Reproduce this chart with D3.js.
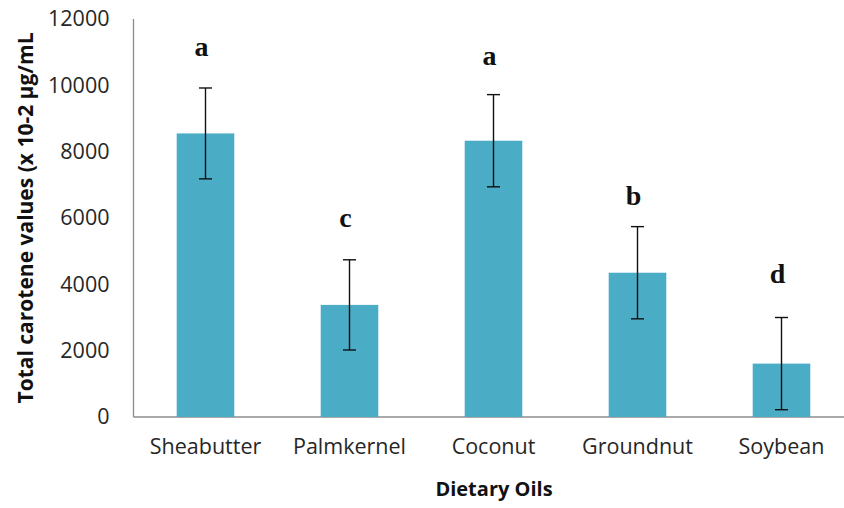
<!DOCTYPE html>
<html><head><meta charset="utf-8">
<script src="https://cdn.jsdelivr.net/npm/d3@7/dist/d3.min.js"></script>
<style>html,body{margin:0;padding:0;background:#fff;}</style>
</head><body>
<svg id="chart" width="844" height="508"></svg>
<script>
const categories = ["Sheabutter", "Palmkernel", "Coconut", "Groundnut", "Soybean"];
const values = [8550, 3380, 8330, 4350, 1610];
const errors = [1370, 1360, 1390, 1390, 1390];
const letters = ["a", "c", "a", "b", "d"];
const letterValues = [10880, 5730, 10610, 6390, 4040];
const yTicks = [0, 2000, 4000, 6000, 8000, 10000, 12000];

const svg = d3.select("#chart");
const x = d3.scaleBand().domain(categories).range([133.5, 853.5]).padding(0);
const y = d3.scaleLinear().domain([0, 12000]).range([417, 19]);
const barW = x.bandwidth() * 0.4;
const tickFont = "'Open Sans', sans-serif";

// axes lines
svg.append("line").attr("x1", 133.5).attr("x2", 133.5).attr("y1", y(12000)).attr("y2", y(0))
  .attr("stroke", "#8c8c8c").attr("stroke-width", 1.3);
svg.append("line").attr("x1", 133.5).attr("x2", 844).attr("y1", y(0)).attr("y2", y(0))
  .attr("stroke", "#8c8c8c").attr("stroke-width", 1.3);

// y ticks
const yAxis = d3.axisLeft(y).tickValues(yTicks).tickSize(0).tickPadding(24).tickFormat(d3.format("d"));
const gy = svg.append("g").attr("transform", "translate(133.5,0)").call(yAxis);
gy.select(".domain").remove();
gy.selectAll("text").attr("font-family", tickFont).attr("font-size", 21.5).attr("fill", "#262626");

// x ticks
const xAxis = d3.axisBottom(x).tickSize(0).tickPadding(22);
const gx = svg.append("g").attr("transform", `translate(0,${y(0)})`).call(xAxis);
gx.select(".domain").remove();
gx.selectAll("text").attr("font-family", tickFont).attr("font-size", 21.5).attr("fill", "#262626");

// bars
svg.selectAll("rect.bar").data(categories).join("rect").attr("class", "bar")
  .attr("x", d => x(d) + x.bandwidth() / 2 - barW / 2)
  .attr("width", barW)
  .attr("y", (d, i) => y(values[i]))
  .attr("height", (d, i) => y(0) - y(values[i]))
  .attr("fill", "#4BACC6");

// error bars
const eg = svg.selectAll("g.err").data(categories).join("g").attr("class", "err")
  .attr("stroke", "#111").attr("stroke-width", 1.4);
eg.append("line")
  .attr("x1", d => x(d) + x.bandwidth() / 2).attr("x2", d => x(d) + x.bandwidth() / 2)
  .attr("y1", (d, i) => y(values[i] + errors[i])).attr("y2", (d, i) => y(values[i] - errors[i]));
eg.append("line")
  .attr("x1", d => x(d) + x.bandwidth() / 2 - 6.5).attr("x2", d => x(d) + x.bandwidth() / 2 + 6.5)
  .attr("y1", (d, i) => y(values[i] + errors[i])).attr("y2", (d, i) => y(values[i] + errors[i]));
eg.append("line")
  .attr("x1", d => x(d) + x.bandwidth() / 2 - 6.5).attr("x2", d => x(d) + x.bandwidth() / 2 + 6.5)
  .attr("y1", (d, i) => y(values[i] - errors[i])).attr("y2", (d, i) => y(values[i] - errors[i]));

// significance letters
svg.selectAll("text.sig").data(categories).join("text").attr("class", "sig")
  .attr("x", d => x(d) + x.bandwidth() / 2 - 4)
  .attr("y", (d, i) => y(letterValues[i]))
  .attr("text-anchor", "middle")
  .attr("font-family", "'Liberation Serif', 'Times New Roman', serif")
  .attr("font-weight", "bold").attr("font-size", 28).attr("fill", "#111")
  .text((d, i) => letters[i]);

// axis titles
svg.append("text").attr("x", 494).attr("y", 496).attr("text-anchor", "middle")
  .attr("font-family", tickFont).attr("font-weight", "bold").attr("font-size", 20).attr("fill", "#111")
  .text("Dietary Oils");
svg.append("text").attr("transform", "translate(33,218) rotate(-90)").attr("text-anchor", "middle")
  .attr("font-family", tickFont).attr("font-weight", "bold").attr("font-size", 21).attr("fill", "#111")
  .text("Total carotene values (x 10-2 µg/mL");
</script>
</body></html>
